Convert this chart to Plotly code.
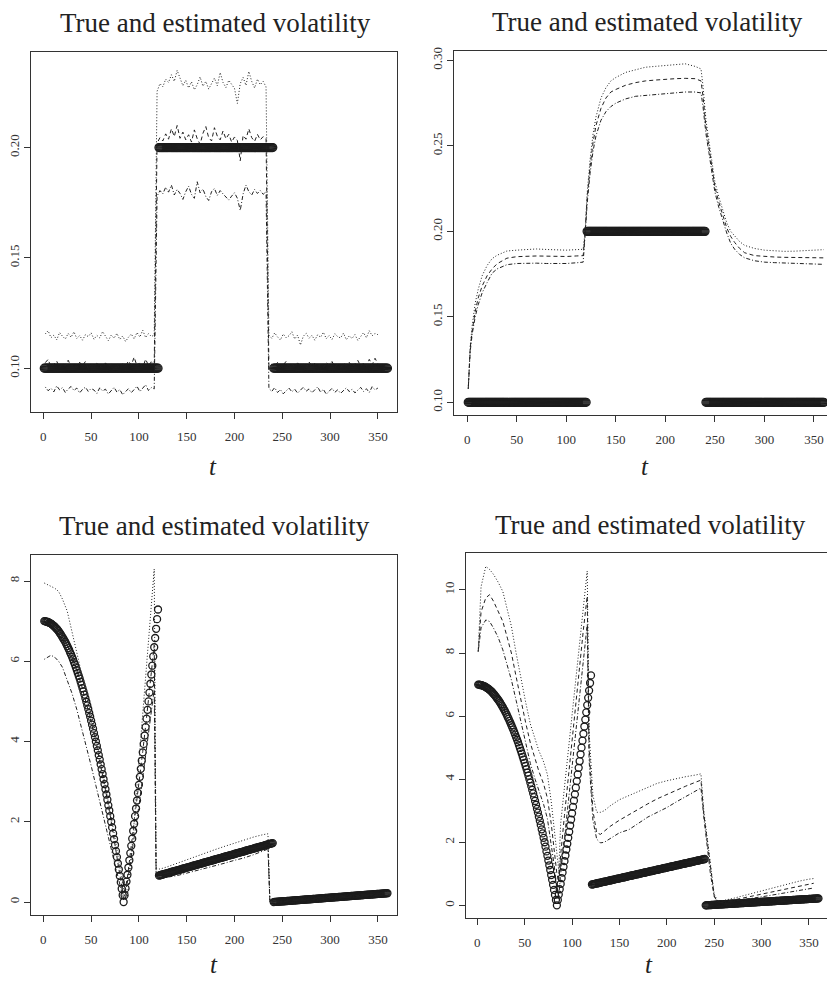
import plotly.graph_objects as go

# ---------------------------------------------------------------------------
# True volatility paths, evaluated at every t = 1..360
# ---------------------------------------------------------------------------
t_true = list(range(1, 361))

# regime-switching volatility (top row)
sigma_step = [0.10] * 120 + [0.20] * 120 + [0.10] * 120

# curved regime, t = 1..120 (bottom row)
sigma_curve_a = [
    7.00, 7.00, 6.99, 6.98, 6.98, 6.96, 6.95, 6.94, 6.92, 6.90,
    6.88, 6.86, 6.83, 6.81, 6.78, 6.75, 6.71, 6.68, 6.64, 6.60,
    6.56, 6.52, 6.48, 6.43, 6.38, 6.33, 6.28, 6.22, 6.17, 6.11,
    6.05, 5.98, 5.92, 5.85, 5.78, 5.71, 5.64, 5.57, 5.49, 5.41,
    5.33, 5.25, 5.17, 5.08, 4.99, 4.90, 4.81, 4.71, 4.62, 4.52,
    4.42, 4.32, 4.21, 4.11, 4.00, 3.89, 3.78, 3.66, 3.55, 3.43,
    3.31, 3.19, 3.06, 2.94, 2.81, 2.68, 2.55, 2.41, 2.28, 2.14,
    2.00, 1.86, 1.71, 1.57, 1.42, 1.27, 1.12, 0.96, 0.81, 0.65,
    0.49, 0.33, 0.17, 0.00, 0.17, 0.34, 0.51, 0.68, 0.86, 1.04,
    1.22, 1.40, 1.58, 1.77, 1.95, 2.14, 2.33, 2.53, 2.72, 2.92,
    3.12, 3.32, 3.52, 3.73, 3.94, 4.15, 4.36, 4.57, 4.79, 5.00,
    5.22, 5.44, 5.67, 5.89, 6.12, 6.35, 6.58, 6.81, 7.05, 7.29,
]
# linear regime, t = 121..240
sigma_curve_b = [
    0.660, 0.667, 0.674, 0.680, 0.687, 0.694, 0.701, 0.708, 0.714, 0.721,
    0.728, 0.735, 0.742, 0.748, 0.755, 0.762, 0.769, 0.776, 0.782, 0.789,
    0.796, 0.803, 0.810, 0.816, 0.823, 0.830, 0.837, 0.844, 0.850, 0.857,
    0.864, 0.871, 0.878, 0.884, 0.891, 0.898, 0.905, 0.912, 0.918, 0.925,
    0.932, 0.939, 0.946, 0.952, 0.959, 0.966, 0.973, 0.980, 0.986, 0.993,
    1.000, 1.007, 1.014, 1.020, 1.027, 1.034, 1.041, 1.048, 1.054, 1.061,
    1.068, 1.075, 1.082, 1.088, 1.095, 1.102, 1.109, 1.116, 1.122, 1.129,
    1.136, 1.143, 1.150, 1.156, 1.163, 1.170, 1.177, 1.184, 1.190, 1.197,
    1.204, 1.211, 1.218, 1.224, 1.231, 1.238, 1.245, 1.252, 1.258, 1.265,
    1.272, 1.279, 1.286, 1.292, 1.299, 1.306, 1.313, 1.320, 1.326, 1.333,
    1.340, 1.347, 1.354, 1.360, 1.367, 1.374, 1.381, 1.388, 1.394, 1.401,
    1.408, 1.415, 1.422, 1.428, 1.435, 1.442, 1.449, 1.456, 1.462, 1.469,
]
# slowly rising regime, t = 241..360
sigma_curve_c = [
    0.000, 0.002, 0.004, 0.006, 0.007, 0.009, 0.011, 0.013, 0.015, 0.017,
    0.019, 0.020, 0.022, 0.024, 0.026, 0.028, 0.030, 0.031, 0.033, 0.035,
    0.037, 0.039, 0.041, 0.043, 0.044, 0.046, 0.048, 0.050, 0.052, 0.054,
    0.056, 0.057, 0.059, 0.061, 0.063, 0.065, 0.067, 0.068, 0.070, 0.072,
    0.074, 0.076, 0.078, 0.080, 0.081, 0.083, 0.085, 0.087, 0.089, 0.091,
    0.093, 0.094, 0.096, 0.098, 0.100, 0.102, 0.104, 0.105, 0.107, 0.109,
    0.111, 0.113, 0.115, 0.117, 0.118, 0.120, 0.122, 0.124, 0.126, 0.128,
    0.130, 0.131, 0.133, 0.135, 0.137, 0.139, 0.141, 0.142, 0.144, 0.146,
    0.148, 0.150, 0.152, 0.154, 0.155, 0.157, 0.159, 0.161, 0.163, 0.165,
    0.167, 0.168, 0.170, 0.172, 0.174, 0.176, 0.178, 0.179, 0.181, 0.183,
    0.185, 0.187, 0.189, 0.191, 0.192, 0.194, 0.196, 0.198, 0.200, 0.202,
    0.204, 0.205, 0.207, 0.209, 0.211, 0.213, 0.215, 0.216, 0.218, 0.220,
]
sigma_curve = sigma_curve_a + sigma_curve_b + sigma_curve_c

# ---------------------------------------------------------------------------
# Panel 1: pointwise estimates (upper band, estimate, lower band)
# ---------------------------------------------------------------------------
p1_t = list(range(2, 117, 3)) + list(range(119, 234, 3)) + list(range(236, 351, 3))

p1_upper_a = [0.1155, 0.1170, 0.1138, 0.1150, 0.1128, 0.1162, 0.1145, 0.1132, 0.1158, 0.1140,
              0.1165, 0.1135, 0.1148, 0.1127, 0.1152, 0.1143, 0.1160, 0.1131, 0.1149, 0.1137,
              0.1166, 0.1142, 0.1125, 0.1150, 0.1136, 0.1158, 0.1130, 0.1146, 0.1121, 0.1140,
              0.1155, 0.1133, 0.1162, 0.1141, 0.1172, 0.1139, 0.1157, 0.1144, 0.1150]
p1_upper_b = [0.2255, 0.2290, 0.2275, 0.2310, 0.2295, 0.2330, 0.2300, 0.2350, 0.2315, 0.2280,
              0.2305, 0.2270, 0.2298, 0.2262, 0.2285, 0.2320, 0.2278, 0.2300, 0.2265, 0.2290,
              0.2315, 0.2280, 0.2340, 0.2295, 0.2272, 0.2305, 0.2288, 0.2268, 0.2200, 0.2290,
              0.2318, 0.2282, 0.2345, 0.2300, 0.2270, 0.2310, 0.2285, 0.2300, 0.2275]
p1_upper_c = [0.1150, 0.1135, 0.1160, 0.1142, 0.1128, 0.1155, 0.1138, 0.1147, 0.1165, 0.1132,
              0.1150, 0.1105, 0.1145, 0.1158, 0.1136, 0.1149, 0.1127, 0.1152, 0.1140, 0.1163,
              0.1134, 0.1148, 0.1130, 0.1156, 0.1143, 0.1137, 0.1159, 0.1129, 0.1146, 0.1135,
              0.1152, 0.1126, 0.1144, 0.1161, 0.1138, 0.1170, 0.1147, 0.1158, 0.1152]

p1_mid_a = [0.1025, 0.1040, 0.1005, 0.1018, 0.1032, 0.1002, 0.1021, 0.1010, 0.1036, 0.1008,
            0.1019, 0.1003, 0.1027, 0.1012, 0.1030, 0.0998, 0.1015, 0.1006, 0.1022, 0.1011,
            0.1001, 0.1024, 0.1009, 0.1017, 0.0992, 0.1013, 0.1004, 0.1020, 0.1007, 0.1033,
            0.1014, 0.1050, 0.1010, 0.1026, 0.1003, 0.1041, 0.1012, 0.1029, 0.1016]
p1_mid_b = [0.2020, 0.2045, 0.2030, 0.2062, 0.2038, 0.2085, 0.2050, 0.2100, 0.2042, 0.2070,
            0.2035, 0.2058, 0.2025, 0.2080, 0.2040, 0.2015, 0.2065, 0.2095, 0.2045, 0.2030,
            0.2090, 0.2052, 0.2035, 0.2075, 0.2040, 0.2060, 0.2025, 0.2048, 0.2032, 0.1940,
            0.2055, 0.2038, 0.2085, 0.2045, 0.2028, 0.2060, 0.2035, 0.2050, 0.2040]
p1_mid_c = [0.1005, 0.1018, 0.1008, 0.1026, 0.1002, 0.1015, 0.1031, 0.1009, 0.1020, 0.1004,
            0.1024, 0.1011, 0.1017, 0.0999, 0.1028, 0.1010, 0.1021, 0.1006, 0.1019, 0.1003,
            0.1025, 0.1013, 0.1030, 0.1007, 0.1016, 0.1001, 0.1022, 0.1012, 0.1027, 0.1005,
            0.1018, 0.1035, 0.1010, 0.1023, 0.1008, 0.1040, 0.1015, 0.1045, 0.1020]

p1_lower_a = [0.0915, 0.0898, 0.0909, 0.0893, 0.0920, 0.0902, 0.0912, 0.0890, 0.0906, 0.0917,
              0.0899, 0.0910, 0.0888, 0.0904, 0.0914, 0.0895, 0.0908, 0.0901, 0.0886, 0.0911,
              0.0897, 0.0905, 0.0883, 0.0900, 0.0913, 0.0892, 0.0903, 0.0880, 0.0896, 0.0907,
              0.0889, 0.0902, 0.0918, 0.0894, 0.0910, 0.0925, 0.0899, 0.0912, 0.0906]
p1_lower_b = [0.1780, 0.1805, 0.1790, 0.1820, 0.1798, 0.1830, 0.1785, 0.1810, 0.1792, 0.1765,
              0.1800, 0.1825, 0.1788, 0.1770, 0.1845, 0.1795, 0.1812, 0.1778, 0.1760, 0.1800,
              0.1815, 0.1783, 0.1805, 0.1790, 0.1775, 0.1762, 0.1780, 0.1795, 0.1770, 0.1715,
              0.1790, 0.1830, 0.1800, 0.1785, 0.1810, 0.1792, 0.1805, 0.1788, 0.1800]
p1_lower_c = [0.0908, 0.0895, 0.0912, 0.0890, 0.0903, 0.0884, 0.0899, 0.0910, 0.0893, 0.0905,
              0.0887, 0.0901, 0.0914, 0.0896, 0.0906, 0.0889, 0.0900, 0.0915, 0.0892, 0.0904,
              0.0882, 0.0898, 0.0909, 0.0891, 0.0902, 0.0886, 0.0897, 0.0911, 0.0894, 0.0905,
              0.0888, 0.0899, 0.0913, 0.0895, 0.0907, 0.0890, 0.0916, 0.0902, 0.0910]

p1_upper = p1_upper_a + p1_upper_b + p1_upper_c
p1_mid = p1_mid_a + p1_mid_b + p1_mid_c
p1_lower = p1_lower_a + p1_lower_b + p1_lower_c

# ---------------------------------------------------------------------------
# Panel 2: smoothed estimates
# ---------------------------------------------------------------------------
p2_t = [1, 3, 5, 8, 11, 15, 20, 25, 30, 40, 50, 60, 70, 80, 90, 100, 110, 117,
        119, 121, 124, 127, 130, 135, 140, 145, 150, 160, 170, 180, 190, 200, 210,
        220, 230, 236, 238, 241, 244, 247, 250, 254, 258, 262, 266, 270, 275, 280,
        290, 300, 310, 320, 330, 340, 350, 360]
p2_upper = [0.108, 0.133, 0.145, 0.158, 0.166, 0.174, 0.180, 0.184, 0.186, 0.1885,
            0.1890, 0.1893, 0.1897, 0.1894, 0.1890, 0.1890, 0.1893, 0.1895,
            0.200, 0.222, 0.242, 0.257, 0.267, 0.278, 0.284, 0.288, 0.290, 0.293,
            0.2945, 0.296, 0.2965, 0.2972, 0.2975, 0.298, 0.2965, 0.295, 0.285,
            0.265, 0.252, 0.240, 0.229, 0.220, 0.212, 0.205, 0.200, 0.1975, 0.194,
            0.1918, 0.1900, 0.1890, 0.1885, 0.1883, 0.1884, 0.1886, 0.1890, 0.1893]
p2_mid = [0.108, 0.132, 0.142, 0.153, 0.161, 0.168, 0.174, 0.178, 0.181, 0.1843,
          0.1852, 0.1855, 0.1856, 0.1855, 0.1853, 0.1853, 0.1856, 0.1858,
          0.199, 0.219, 0.238, 0.252, 0.262, 0.272, 0.278, 0.2815, 0.283, 0.2855,
          0.287, 0.288, 0.2885, 0.289, 0.2893, 0.2895, 0.2893, 0.288, 0.279,
          0.261, 0.249, 0.237, 0.226, 0.217, 0.209, 0.202, 0.197, 0.1935, 0.190,
          0.1875, 0.1858, 0.1853, 0.1850, 0.1848, 0.1848, 0.1847, 0.1846, 0.1845]
p2_lower = [0.108, 0.130, 0.140, 0.150, 0.157, 0.164, 0.170, 0.1755, 0.178, 0.1805,
            0.1812, 0.1815, 0.1814, 0.1812, 0.1810, 0.1812, 0.1816, 0.1820,
            0.198, 0.216, 0.234, 0.247, 0.256, 0.265, 0.270, 0.273, 0.275, 0.2775,
            0.279, 0.2795, 0.2803, 0.2808, 0.2812, 0.2815, 0.2815, 0.281, 0.273,
            0.257, 0.246, 0.234, 0.223, 0.214, 0.206, 0.199, 0.193, 0.1895, 0.1865,
            0.1845, 0.1828, 0.1820, 0.1817, 0.1815, 0.1813, 0.1810, 0.1808, 0.1807]

# ---------------------------------------------------------------------------
# Panel 3: estimates for the curved path
# ---------------------------------------------------------------------------
p3_t = [1, 4, 8, 12, 16, 20, 25, 30, 35, 40, 45, 50, 55, 60, 65, 70, 75, 80, 84,
        88, 92, 96, 100, 104, 108, 112, 116, 118, 122, 130, 140, 150, 160, 170,
        180, 190, 200, 210, 220, 230, 235, 237, 240, 250, 260, 280, 300, 320, 340, 356]
p3_upper = [7.95, 7.92, 7.88, 7.82, 7.74, 7.55, 7.25, 6.75, 6.20, 5.70, 5.15, 4.65,
            4.10, 3.50, 2.90, 2.25, 1.60, 0.85, 0.30, 0.15, 1.10, 2.29, 3.49, 4.68,
            5.88, 7.07, 8.30, 0.85, 0.82, 0.88, 0.97, 1.05, 1.14, 1.22, 1.31, 1.39,
            1.47, 1.55, 1.62, 1.68, 1.70, 0.05, 0.04, 0.05, 0.07, 0.11, 0.14, 0.17,
            0.20, 0.22]
p3_mid = [7.00, 6.98, 6.95, 6.90, 6.78, 6.62, 6.40, 6.10, 5.78, 5.40, 4.98, 4.50,
          3.98, 3.42, 2.80, 2.15, 1.45, 0.68, 0.10, 0.62, 1.38, 2.15, 2.95, 3.75,
          4.60, 5.50, 6.40, 0.72, 0.69, 0.72, 0.79, 0.86, 0.93, 1.00, 1.07, 1.13,
          1.20, 1.27, 1.34, 1.41, 1.44, 0.02, 0.01, 0.02, 0.04, 0.07, 0.11, 0.15,
          0.18, 0.21]
p3_lower = [6.05, 6.10, 6.15, 6.10, 6.00, 5.85, 5.55, 5.20, 4.80, 4.35, 3.90, 3.40,
            2.90, 2.40, 1.90, 1.40, 0.90, 0.40, 0.05, 0.50, 1.10, 1.75, 2.40, 3.10,
            3.80, 4.55, 5.30, 0.65, 0.60, 0.62, 0.66, 0.72, 0.78, 0.84, 0.90, 0.97,
            1.04, 1.10, 1.18, 1.27, 1.32, 0.00, 0.00, 0.01, 0.03, 0.05, 0.08, 0.12,
            0.15, 0.18]

# ---------------------------------------------------------------------------
# Panel 4: estimates for the curved path, second setting
# ---------------------------------------------------------------------------
p4_t = [1, 4, 9, 13, 17, 22, 27, 32, 36, 41, 46, 51, 56, 61, 65, 70, 74, 78, 81,
        84, 86, 88, 92, 96, 100, 104, 108, 112, 116, 118, 122, 126, 130, 134, 140,
        150, 160, 170, 180, 190, 200, 210, 220, 230, 236, 239, 242, 246, 250, 254,
        260, 270, 280, 290, 300, 310, 320, 330, 340, 350, 355]
p4_upper = [8.05, 10.10, 10.75, 10.65, 10.50, 10.25, 9.95, 9.30, 8.85, 8.00, 7.20,
            6.45, 5.75, 5.30, 4.90, 4.55, 4.15, 3.30, 2.55, 1.60, 1.10, 2.60, 3.75,
            4.90, 6.05, 7.20, 8.35, 9.50, 10.60, 5.50, 3.50, 2.95, 2.95, 3.00, 3.15,
            3.35, 3.48, 3.62, 3.76, 3.87, 3.95, 4.02, 4.08, 4.13, 4.17, 3.00, 2.30,
            1.20, 0.35, 0.12, 0.15, 0.22, 0.30, 0.38, 0.46, 0.54, 0.62, 0.70, 0.77,
            0.83, 0.85]
p4_mid = [8.05, 9.30, 9.75, 9.85, 9.65, 9.35, 9.00, 8.45, 8.00, 7.25, 6.50, 5.80,
          5.15, 4.65, 4.25, 3.85, 3.40, 2.60, 1.85, 1.00, 0.75, 1.60, 2.85, 4.05,
          5.25, 6.45, 7.60, 8.75, 9.80, 5.00, 3.00, 2.30, 2.25, 2.35, 2.50, 2.70,
          2.88, 3.05, 3.22, 3.38, 3.52, 3.65, 3.78, 3.90, 3.97, 2.90, 2.20, 1.10,
          0.30, 0.10, 0.12, 0.17, 0.23, 0.29, 0.36, 0.42, 0.49, 0.55, 0.61, 0.67,
          0.70]
p4_lower = [8.05, 8.80, 9.05, 9.00, 8.80, 8.50, 8.10, 7.60, 7.15, 6.50, 5.80, 5.10,
            4.50, 4.00, 3.65, 3.20, 2.75, 2.00, 1.30, 0.55, 0.30, 1.00, 2.10, 3.20,
            4.30, 5.40, 6.50, 7.70, 8.90, 4.60, 2.70, 2.10, 1.98, 2.00, 2.12, 2.30,
            2.40, 2.60, 2.80, 2.95, 3.10, 3.28, 3.45, 3.62, 3.72, 2.80, 2.10, 1.00,
            0.28, 0.08, 0.09, 0.13, 0.17, 0.22, 0.27, 0.32, 0.37, 0.42, 0.47, 0.52,
            0.55]

x_ticks = [0, 50, 100, 150, 200, 250, 300, 350]
title_text = "True and estimated volatility"

# ---------------------------------------------------------------------------
# Figure
# ---------------------------------------------------------------------------
W, H = 827, 982
INK = "#1c1c1c"
FRAME = "#333333"
SERIF = "Liberation Serif, DejaVu Serif, serif"

panels = [
    dict(ax="", true=sigma_step, t=p1_t, est=(p1_upper, p1_mid, p1_lower),
         dom_x=(31, 397), dom_y=(48, 410), xr=(-12.9, 370.0), yr=(0.0800, 0.2434),
         yt=[0.10, 0.15, 0.20], ytxt=["0.10", "0.15", "0.20"], right=True,
         title=(215, 19), tlab=(213, 464), msize=8),
    dict(ax="2", true=sigma_step, t=p2_t, est=(p2_upper, p2_mid, p2_lower),
         dom_x=(454, 827), dom_y=(47, 413), xr=(-13.4, 363.2), yr=(0.0924, 0.3056),
         yt=[0.10, 0.15, 0.20, 0.25, 0.30], ytxt=["0.10", "0.15", "0.20", "0.25", "0.30"],
         right=False, title=(647, 18), tlab=(645, 464), msize=8),
    dict(ax="3", true=sigma_curve, t=p3_t, est=(p3_upper, p3_mid, p3_lower),
         dom_x=(31, 397), dom_y=(553, 915), xr=(-12.9, 370.0), yr=(-0.33, 8.655),
         yt=[0, 2, 4, 6, 8], ytxt=["0", "2", "4", "6", "8"], right=True,
         title=(214, 524), tlab=(214, 964), msize=7),
    dict(ax="4", true=sigma_curve, t=p4_t, est=(p4_upper, p4_mid, p4_lower),
         dom_x=(465.7, 827), dom_y=(551, 918), xr=(-12.2, 369.0), yr=(-0.41, 11.18),
         yt=[0, 2, 4, 6, 8, 10], ytxt=["0", "2", "4", "6", "8", "10"], right=False,
         title=(650, 523), tlab=(649, 964), msize=7),
]

line_styles = [
    dict(dash="1px,2px", width=1),             # upper band: dotted
    dict(dash="4px,3px", width=1),             # estimate: dashed
    dict(dash="1px,2px,4px,2px", width=1),     # lower band: dot-dash
]

fig = go.Figure()
layout = dict(
    width=W, height=H, margin=dict(l=0, r=0, t=0, b=0),
    paper_bgcolor="white", plot_bgcolor="white", showlegend=False,
    annotations=[],
)

for p in panels:
    xa, ya = "x" + p["ax"], "y" + p["ax"]
    fig.add_trace(go.Scatter(
        x=t_true, y=p["true"], mode="markers", xaxis=xa, yaxis=ya,
        marker=dict(symbol="circle-open", size=p["msize"], color=INK,
                    line=dict(width=1.3, color=INK)),
        hoverinfo="skip"))
    for series, style in zip(p["est"], line_styles):
        fig.add_trace(go.Scatter(
            x=p["t"], y=series, mode="lines", xaxis=xa, yaxis=ya,
            line=dict(color="#202020", **style), hoverinfo="skip"))

    x0, x1 = p["dom_x"]
    y0, y1 = p["dom_y"]
    layout["xaxis" + p["ax"]] = dict(
        domain=[x0 / W, x1 / W], range=list(p["xr"]), anchor=ya,
        tickvals=x_ticks, ticktext=[str(v) for v in x_ticks],
        ticks="outside", ticklen=6, tickwidth=1, tickcolor=FRAME,
        showline=True, linecolor=FRAME, linewidth=1, mirror=True,
        showgrid=False, zeroline=False, ticklabelstandoff=6,
        tickfont=dict(family=SERIF, size=13, color="#333333"))
    layout["yaxis" + p["ax"]] = dict(
        domain=[1 - y1 / H, 1 - y0 / H], range=list(p["yr"]), anchor=xa,
        tickvals=p["yt"], ticktext=p["ytxt"], tickangle=-90,
        ticks="outside", ticklen=6, tickwidth=1, tickcolor=FRAME,
        showline=True, linecolor=FRAME, linewidth=1, mirror=p["right"],
        showgrid=False, zeroline=False, ticklabelstandoff=0,
        tickfont=dict(family=SERIF, size=13, color="#333333"))

    tx, ty = p["title"]
    layout["annotations"].append(dict(
        text=title_text, x=tx / W, y=1 - ty / H, xref="paper", yref="paper",
        xanchor="center", yanchor="middle", showarrow=False,
        font=dict(family=SERIF, size=27, color="#222222")))
    lx, ly = p["tlab"]
    layout["annotations"].append(dict(
        text="<i>t</i>", x=lx / W, y=1 - ly / H, xref="paper", yref="paper",
        xanchor="center", yanchor="middle", showarrow=False,
        font=dict(family=SERIF, size=25, color="#222222")))

fig.update_layout(**layout)
fig.write_html("out.html")
